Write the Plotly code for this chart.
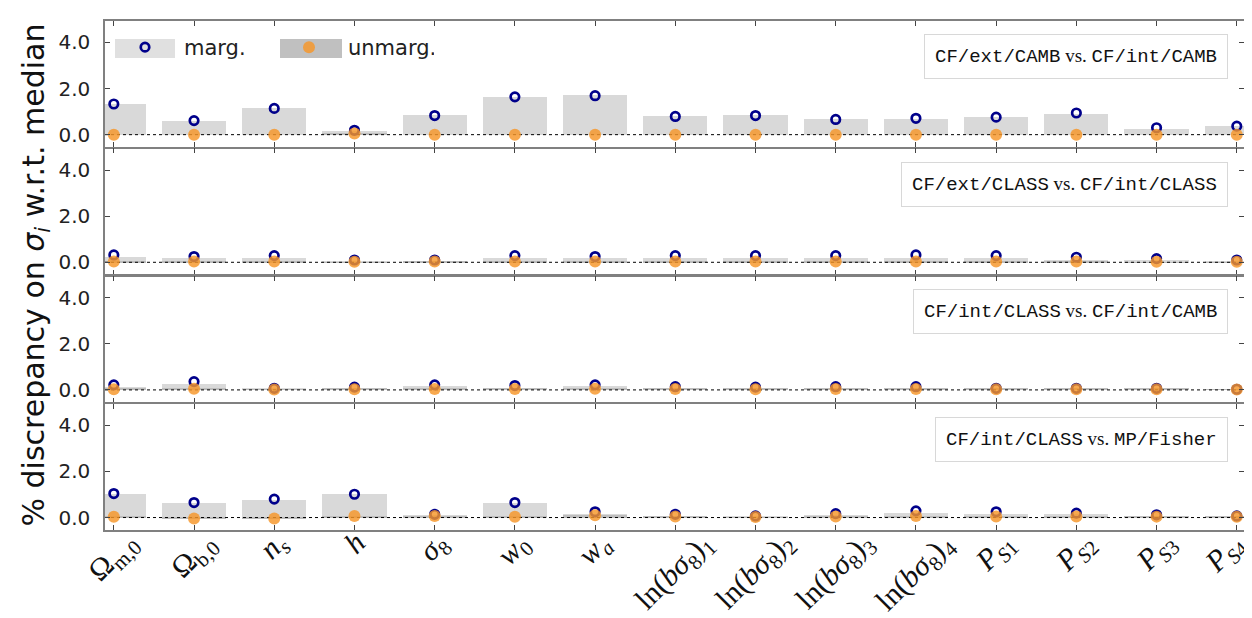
import plotly.graph_objects as go
from plotly.subplots import make_subplots

# ---------------- data ----------------
params = [
    "Ω<sub>m,0</sub>", "Ω<sub>b,0</sub>", "<i>n</i><sub><i>s</i></sub>", "<i>h</i>",
    "<i>σ</i><sub>8</sub>", "<i>w</i><sub>0</sub>", "<i>w</i><sub><i>a</i></sub>",
    "ln(<i>bσ</i><sub>8</sub>)<sub>1</sub>", "ln(<i>bσ</i><sub>8</sub>)<sub>2</sub>",
    "ln(<i>bσ</i><sub>8</sub>)<sub>3</sub>", "ln(<i>bσ</i><sub>8</sub>)<sub>4</sub>",
    "<i>P</i><sub><i>S</i>1</sub>", "<i>P</i><sub><i>S</i>2</sub>",
    "<i>P</i><sub><i>S</i>3</sub>", "<i>P</i><sub><i>S</i>4</sub>",
]

panel_labels = [
    "CF/ext/CAMB", "CF/int/CAMB",
    "CF/ext/CLASS", "CF/int/CLASS",
    "CF/int/CLASS", "CF/int/CAMB",
    "CF/int/CLASS", "MP/Fisher",
]

# panel 1: CF/ext/CAMB vs CF/int/CAMB
marg_pt_1 = [1.33, 0.61, 1.14, 0.19, 0.83, 1.64, 1.69, 0.79, 0.83, 0.66, 0.71, 0.76, 0.94, 0.30, 0.37]
marg_bar_1 = [1.33, 0.61, 1.16, 0.14, 0.86, 1.64, 1.70, 0.80, 0.86, 0.67, 0.67, 0.75, 0.91, 0.24, 0.39]
unmarg_1 = [0.0, 0.0, 0.0, 0.05, 0.0, 0.0, 0.0, 0.0, 0.0, 0.0, 0.0, 0.0, 0.0, 0.0, 0.0]

# panel 2: CF/ext/CLASS vs CF/int/CLASS
marg_pt_2 = [0.32, 0.25, 0.29, 0.10, 0.10, 0.29, 0.25, 0.29, 0.29, 0.29, 0.32, 0.29, 0.22, 0.16, 0.10]
marg_bar_2 = [0.25, 0.19, 0.19, 0.06, 0.08, 0.19, 0.22, 0.19, 0.19, 0.19, 0.22, 0.19, 0.13, 0.10, 0.06]
unmarg_2 = [0.03, 0.03, 0.03, 0.02, 0.03, 0.03, 0.03, 0.03, 0.03, 0.03, 0.03, 0.03, 0.03, 0.02, 0.02]

# panel 3: CF/int/CLASS vs CF/int/CAMB
marg_pt_3 = [0.22, 0.36, 0.07, 0.12, 0.22, 0.19, 0.22, 0.14, 0.12, 0.14, 0.14, 0.07, 0.07, 0.07, 0.03]
marg_bar_3 = [0.12, 0.26, 0.04, 0.07, 0.14, 0.07, 0.14, 0.07, 0.06, 0.07, 0.07, 0.04, 0.04, 0.04, 0.02]
unmarg_3 = [0.03, 0.05, 0.02, 0.03, 0.04, 0.04, 0.05, 0.04, 0.03, 0.04, 0.04, 0.03, 0.03, 0.03, 0.02]

# panel 4: CF/int/CLASS vs MP/Fisher
marg_pt_4 = [1.04, 0.65, 0.80, 1.01, 0.14, 0.65, 0.25, 0.14, 0.07, 0.17, 0.29, 0.25, 0.19, 0.12, 0.07]
marg_bar_4 = [1.01, 0.64, 0.77, 1.01, 0.10, 0.64, 0.17, 0.09, 0.05, 0.12, 0.22, 0.14, 0.14, 0.09, 0.05]
unmarg_4 = [0.03, -0.04, -0.04, 0.07, 0.07, 0.03, 0.10, 0.05, 0.02, 0.05, 0.07, 0.05, 0.05, 0.04, 0.03]

marg_pts = [marg_pt_1, marg_pt_2, marg_pt_3, marg_pt_4]
marg_bars = [marg_bar_1, marg_bar_2, marg_bar_3, marg_bar_4]
unmargs = [unmarg_1, unmarg_2, unmarg_3, unmarg_4]

y_ticks = [0.0, 2.0, 4.0]
Y_RANGE = [-0.54, 4.93]
X_RANGE = [-0.11, 14.09]

# ---------------- figure ----------------
W, H = 1252, 618
ML, MR, MT, MB = 97, 16, 13, 96
PW, PH = W - ML - MR, H - MT - MB
GAP = 1.5
PANEL_H = (PH - 3 * GAP) / 4

fig = make_subplots(rows=4, cols=1, shared_xaxes=True, vertical_spacing=0)
xs = list(range(len(params)))

LIGHT = "#d9d9d9"
DARK = "#bdbdbd"
BLUE = "#00008b"
ORANGE = "rgba(247,150,40,0.82)"

for i in range(4):
    r = i + 1
    fig.add_trace(go.Bar(x=xs, y=marg_bars[i], width=0.8, marker=dict(color=LIGHT, line=dict(width=0)),
                         showlegend=False, hoverinfo="skip"), row=r, col=1)
    fig.add_trace(go.Bar(x=xs, y=unmargs[i], width=0.8, marker=dict(color=DARK, line=dict(width=0)),
                         showlegend=False, hoverinfo="skip"), row=r, col=1)
    fig.add_trace(go.Scatter(x=X_RANGE, y=[0, 0], mode="lines",
                             line=dict(color="black", width=1, dash="dot"),
                             showlegend=False, hoverinfo="skip"), row=r, col=1)
    fig.add_trace(go.Scatter(x=xs, y=marg_pts[i], mode="markers", name="marg.",
                             marker=dict(symbol="circle-open", size=8.5, color=BLUE, line=dict(width=2.7, color=BLUE)),
                             showlegend=(i == 0)), row=r, col=1)
    fig.add_trace(go.Scatter(x=xs, y=unmargs[i], mode="markers", name="unmarg.",
                             marker=dict(symbol="circle", size=12, color=ORANGE, line=dict(width=0)),
                             showlegend=(i == 0)), row=r, col=1)

    top = MT + i * (PANEL_H + GAP)
    bot = top + PANEL_H
    dom = [(H - MB - bot) / PH, (H - MB - top) / PH]

    yax = "yaxis" if r == 1 else f"yaxis{r}"
    fig.layout[yax].update(range=Y_RANGE, tickvals=y_ticks, ticktext=[f"{v:.1f}" for v in y_ticks],
                           domain=dom, automargin=False,
                           ticks="inside", ticklen=5, tickcolor="#444", mirror="ticks",
                           showline=True, linecolor="#808080", linewidth=1.5,
                           showgrid=False, zeroline=False, ticklabelstandoff=9,
                           tickfont=dict(family="DejaVu Sans", size=20, color="#222"))
    xax = "xaxis" if r == 1 else f"xaxis{r}"
    fig.layout[xax].update(range=X_RANGE, tickvals=xs, showticklabels=False, automargin=False,
                           ticks="inside", ticklen=5, tickcolor="#444", mirror="ticks",
                           showline=True, linecolor="#808080", linewidth=1.5,
                           showgrid=False, zeroline=False)

    a, b = panel_labels[2 * i], panel_labels[2 * i + 1]
    txt = (f"{a}<span style='font-family:Liberation Serif'> vs. </span>{b}")
    sfx = "" if r == 1 else str(r)
    fig.add_annotation(text=txt, xref=f"x{sfx} domain", yref=f"y{sfx} domain",
                       x=0.986, y=0.895, xanchor="right", yanchor="top", showarrow=False,
                       font=dict(family="Liberation Mono", size=19, color="#111"),
                       bordercolor="#d8d8d8", borderwidth=1, borderpad=10, bgcolor="white")

# rotated category labels under the bottom panel (centred on each tick, like the original)
for xi, lab in zip(xs, params):
    fig.add_annotation(text=lab, xref="x4", yref="paper", x=xi, y=0, yshift=7,
                       xshift=(-11 if xi == xs[-1] else 0),
                       xanchor="center", yanchor="top", textangle=-45, showarrow=False,
                       font=dict(family="Liberation Serif", size=30, color="#111"))

# y title
fig.add_annotation(text="% discrepancy on <i>σ<sub>i</sub></i> w.r.t. median", xref="paper", yref="paper",
                   x=-(ML - 27) / PW, y=0.5, xanchor="center", yanchor="middle", textangle=-90,
                   showarrow=False, font=dict(family="DejaVu Sans", size=30, color="#111"))

# legend swatches (px -> paper)
def px_x(p):
    return (p - ML) / PW

def px_y(p):
    return (H - MB - p) / PH

for x0, x1, col in [(107, 167, "#e0e0e0"), (272, 334, "#c0c0c0")]:
    fig.add_shape(type="rect", xref="paper", yref="paper", x0=px_x(x0), x1=px_x(x1),
                  y0=px_y(50), y1=px_y(31), fillcolor=col, line=dict(width=0), layer="above")

fig.update_layout(
    width=W, height=H, margin=dict(l=ML, r=MR, t=MT, b=MB, autoexpand=False),
    paper_bgcolor="white", plot_bgcolor="white", barmode="overlay", bargap=0,
    legend=dict(orientation="h", x=px_x(98), y=px_y(19), xanchor="left", yanchor="top",
                bgcolor="rgba(0,0,0,0)", itemwidth=68, entrywidth=81, entrywidthmode="pixels",
                font=dict(family="DejaVu Sans", size=21, color="#222"), tracegroupgap=0),
)

fig.write_html("out.html")
